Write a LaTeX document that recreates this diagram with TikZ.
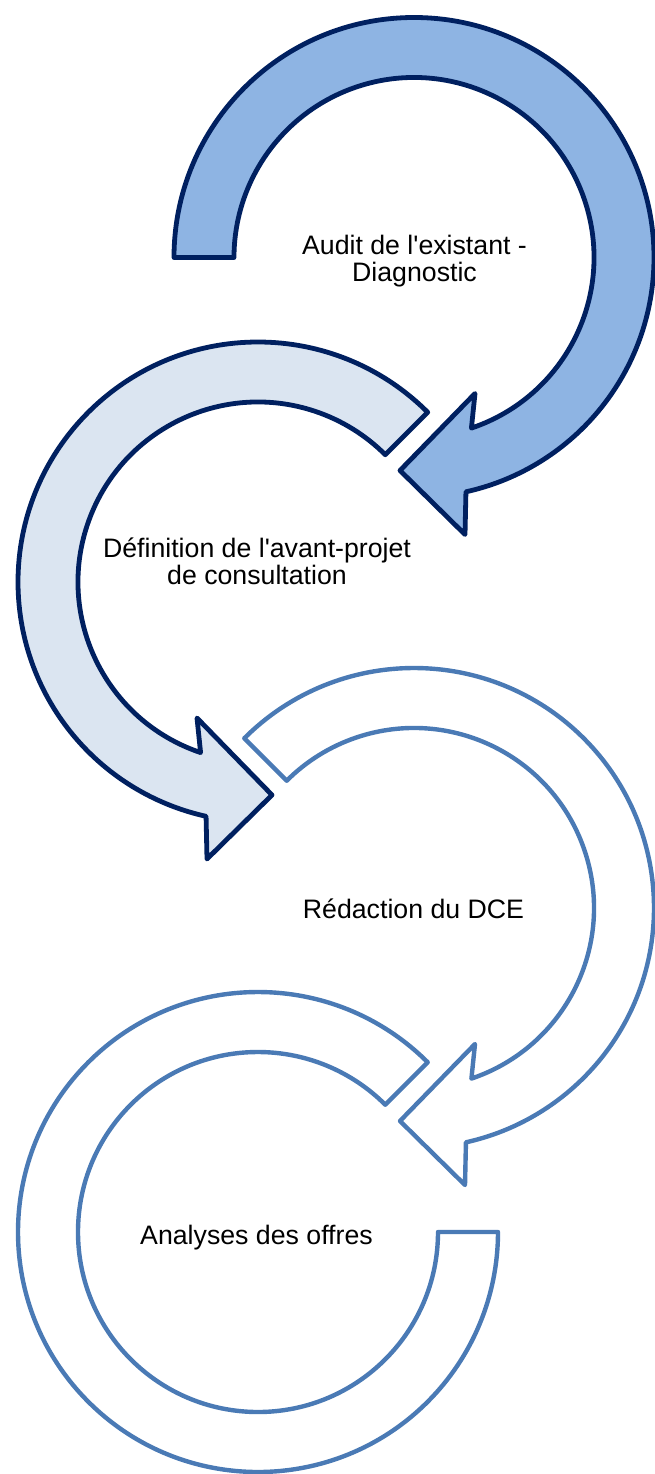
\documentclass[tikz,border=0pt]{standalone}
\usepackage{fontspec}
\newfontfamily\lbfont{Liberation Sans}
\usetikzlibrary{calc}
\definecolor{navy}{HTML}{002060}
\definecolor{fillA}{HTML}{8EB4E3}
\definecolor{fillB}{HTML}{DBE5F1}
\definecolor{steel}{HTML}{4A7AB5}
\begin{document}
\begin{tikzpicture}[x=1pt,y=1pt,yscale=-1,
  darkarrow/.style={draw=navy, line width=4.8pt, line join=round},
  lightarrow/.style={draw=steel, fill=white, line width=4.4pt, line join=round},
  lbl/.style={font=\lbfont\fontsize{26.7}{27}\selectfont, inner sep=0pt, anchor=base, text=black}]
\useasboundingbox (0,0) rectangle (654,1474);
\coordinate (c1) at (414,257.5);
\coordinate (c2) at (258,582);
\coordinate (c3) at (414,908);
\coordinate (c4) at (258,1232);
% arrow 1
\draw[darkarrow, fill=fillA] ($(c1)+(180:240)$) arc[start angle=180, end angle=437.5, radius=240]
  -- ($(c1)+(51,277)$) -- ($(c1)+(-14,213)$) -- ($(c1)+(61,136)$) -- ($(c1)+(431.4:180)$)
  arc[start angle=431.4, end angle=180, radius=180] -- cycle;
% arrow 2
\draw[darkarrow, fill=fillB] ($(c2)+(-45:240)$) arc[start angle=-45, end angle=-257.5, radius=240]
  -- ($(c2)+(-51,277)$) -- ($(c2)+(14,213)$) -- ($(c2)+(-61,136)$) -- ($(c2)+(-251.4:180)$)
  arc[start angle=-251.4, end angle=-45, radius=180] -- cycle;
% arrow 3
\draw[lightarrow] ($(c3)+(225:240)$) arc[start angle=225, end angle=437.5, radius=240]
  -- ($(c3)+(51,277)$) -- ($(c3)+(-14,213)$) -- ($(c3)+(61,136)$) -- ($(c3)+(431.4:180)$)
  arc[start angle=431.4, end angle=225, radius=180] -- cycle;
% arrow 4
\draw[lightarrow] ($(c4)+(-45:240)$) arc[start angle=-45, end angle=-360, radius=240]
  -- ($(c4)+(0:180)$) arc[start angle=-360, end angle=-45, radius=180] -- cycle;
% labels
\node[lbl] (t1) at (414.5,254) {\begin{tabular}[t]{@{}c@{}}Audit de l'existant -\\Diagnostic\end{tabular}};
\node[lbl] (t2) at (257,557) {\begin{tabular}[t]{@{}c@{}}Définition de l'avant-projet\\de consultation\end{tabular}};
\node[lbl] (t3) at (413.5,918) {Rédaction du DCE};
\node[lbl] (t4) at (256.5,1244) {Analyses des offres};
\end{tikzpicture}
\end{document}
